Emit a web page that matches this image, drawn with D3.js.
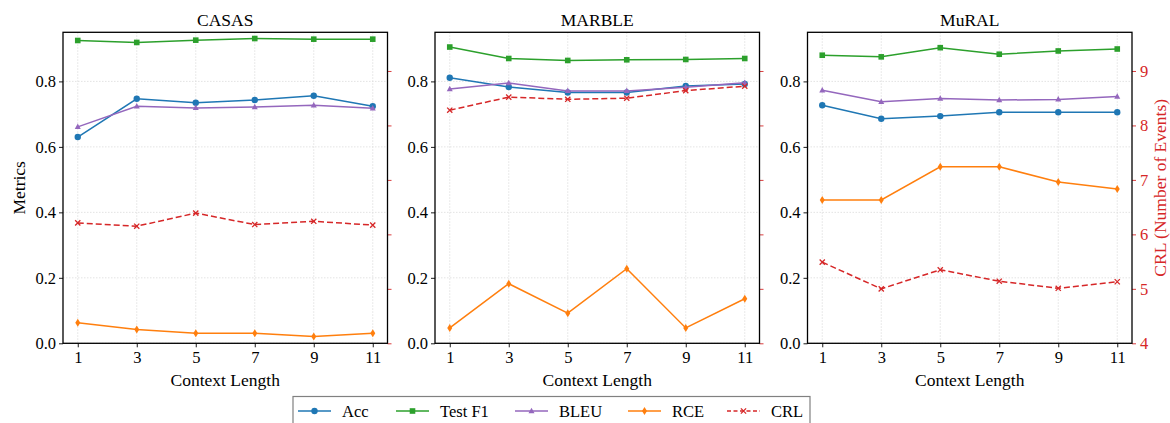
<!DOCTYPE html>
<html>
<head>
<meta charset="utf-8">
<script src="https://cdn.jsdelivr.net/npm/d3@7"></script>
<style>
  body { margin: 0; background: #fff; }
  svg { font-family: "Liberation Serif", "Times New Roman", serif; }
</style>
</head>
<body>
<div id="chart"></div>
<script>
var contextLengths = [1, 3, 5, 7, 9, 11];
var datasets = ["CASAS", "MARBLE", "MuRAL"];

// one row per dataset: CASAS, MARBLE, MuRAL
var accVals = [
  [0.630, 0.747, 0.735, 0.743, 0.756, 0.724],
  [0.811, 0.783, 0.766, 0.766, 0.786, 0.792],
  [0.727, 0.686, 0.694, 0.706, 0.706, 0.706]
];
var f1Vals = [
  [0.925, 0.919, 0.926, 0.931, 0.929, 0.929],
  [0.905, 0.870, 0.864, 0.866, 0.867, 0.870],
  [0.880, 0.875, 0.903, 0.883, 0.893, 0.899]
];
var bleuVals = [
  [0.661, 0.724, 0.719, 0.722, 0.727, 0.718],
  [0.777, 0.795, 0.771, 0.771, 0.782, 0.796],
  [0.773, 0.738, 0.748, 0.743, 0.745, 0.754]
];
var rceVals = [
  [0.063, 0.042, 0.031, 0.031, 0.021, 0.031],
  [0.047, 0.182, 0.092, 0.228, 0.047, 0.136],
  [0.438, 0.438, 0.539, 0.539, 0.493, 0.471]
];
var crlVals = [
  [6.21, 6.15, 6.39, 6.18, 6.24, 6.17],
  [8.28, 8.52, 8.48, 8.50, 8.64, 8.72],
  [5.49, 5.00, 5.35, 5.14, 5.01, 5.13]
];
var metricTicks = [0.0, 0.2, 0.4, 0.6, 0.8];
var crlTicks = [4, 5, 6, 7, 8, 9];

var series = [
  {name: "Acc", vals: accVals, color: "#1f77b4", marker: "circle"},
  {name: "Test F1", vals: f1Vals, color: "#2ca02c", marker: "square"},
  {name: "BLEU", vals: bleuVals, color: "#9467bd", marker: "triangle"},
  {name: "RCE", vals: rceVals, color: "#ff7f0e", marker: "diamond"},
  {name: "CRL", vals: crlVals, color: "#d62728", marker: "x", dashed: true, right: true}
];

var W = 1170, H = 423;
var panelLefts = [63, 435, 807.5];
var pw = 324.5, plotTop = 32.3, plotBottom = 343.3;

var svg = d3.select("#chart").append("svg")
  .attr("width", W).attr("height", H);

function drawMarker(g, type, x, y, color) {
  if (type === "circle") {
    g.append("circle").attr("cx", x).attr("cy", y).attr("r", 3.2).attr("fill", color);
  } else if (type === "square") {
    g.append("rect").attr("x", x - 2.8).attr("y", y - 2.8).attr("width", 5.6).attr("height", 5.6).attr("fill", color);
  } else if (type === "triangle") {
    g.append("path").attr("d", "M" + x + "," + (y - 3.3) + "L" + (x + 3) + "," + (y + 2.2) + "L" + (x - 3) + "," + (y + 2.2) + "Z")
      .attr("fill", color);
  } else if (type === "diamond") {
    g.append("path").attr("d", "M" + x + "," + (y - 4) + "L" + (x + 2.5) + "," + y + "L" + x + "," + (y + 4) + "L" + (x - 2.5) + "," + y + "Z")
      .attr("fill", color);
  } else if (type === "x") {
    g.append("path").attr("d", "M" + (x - 2.6) + "," + (y - 2.6) + "L" + (x + 2.6) + "," + (y + 2.6) + "M" + (x - 2.6) + "," + (y + 2.6) + "L" + (x + 2.6) + "," + (y - 2.6))
      .attr("stroke", color).attr("stroke-width", 1.3).attr("fill", "none");
  }
}

datasets.forEach(function(name, pi) {
  var left = panelLefts[pi];
  var x = d3.scaleLinear().domain([0.5, 11.5]).range([left, left + pw]);
  var y = d3.scaleLinear().domain([0, 0.95]).range([plotBottom, plotTop]);
  var y2 = d3.scaleLinear().domain([4, 9.71]).range([plotBottom, plotTop]);

  var g = svg.append("g");

  // grid
  g.selectAll(".vg").data(contextLengths).enter().append("line")
    .attr("x1", function(d) { return x(d); }).attr("x2", function(d) { return x(d); })
    .attr("y1", plotTop).attr("y2", plotBottom)
    .attr("stroke", "#dcdcdc").attr("stroke-width", 0.8).attr("stroke-dasharray", "1.5,1.5");
  g.selectAll(".hg").data(metricTicks).enter().append("line")
    .attr("x1", left).attr("x2", left + pw)
    .attr("y1", function(d) { return y(d); }).attr("y2", function(d) { return y(d); })
    .attr("stroke", "#dcdcdc").attr("stroke-width", 0.8).attr("stroke-dasharray", "1.5,1.5");

  // lines
  series.forEach(function(s) {
    var sy = s.right ? y2 : y;
    var line = d3.line()
      .x(function(d, i) { return x(contextLengths[i]); })
      .y(function(d) { return sy(d); });
    g.append("path").datum(s.vals[pi])
      .attr("d", line).attr("fill", "none")
      .attr("stroke", s.color).attr("stroke-width", 1.5)
      .attr("stroke-dasharray", s.dashed ? "6,3" : null);
    s.vals[pi].forEach(function(v, i) {
      drawMarker(g, s.marker, x(contextLengths[i]), sy(v), s.color);
    });
  });

  // axes
  var xAxis = g.append("g").attr("transform", "translate(0," + plotBottom + ")")
    .call(d3.axisBottom(x).tickValues(contextLengths).tickSize(4).tickPadding(4));
  var yAxis = g.append("g").attr("transform", "translate(" + left + ",0)")
    .call(d3.axisLeft(y).tickValues(metricTicks).tickFormat(d3.format(".1f")).tickSize(4).tickPadding(3));
  var y2Axis = g.append("g").attr("transform", "translate(" + (left + pw) + ",0)")
    .call(d3.axisRight(y2).tickValues(crlTicks).tickSize(4).tickPadding(4)
      .tickFormat(pi === 2 ? d3.format("d") : function() { return ""; }));
  [xAxis, yAxis, y2Axis].forEach(function(a) {
    a.select(".domain").remove();
    a.selectAll("text").attr("font-size", 16.5).attr("font-family", "Liberation Serif, Times New Roman, serif").attr("fill", "#000");
    a.selectAll("line").attr("stroke", "#000").attr("stroke-width", 0.9);
  });
  y2Axis.selectAll("line").attr("stroke", "#d62728");
  y2Axis.selectAll("text").attr("fill", "#d62728");

  // frame
  g.append("rect").attr("x", left).attr("y", plotTop).attr("width", pw).attr("height", plotBottom - plotTop)
    .attr("fill", "none").attr("stroke", "#000").attr("stroke-width", 1.3);

  // titles
  g.append("text").attr("x", left + pw / 2).attr("y", 26)
    .attr("text-anchor", "middle").attr("font-size", 17.5).text(name);
  g.append("text").attr("x", left + pw / 2).attr("y", 385.5)
    .attr("text-anchor", "middle").attr("font-size", 17.5).text("Context Length");
});

svg.append("text")
  .attr("transform", "translate(25," + ((plotTop + plotBottom) / 2) + ") rotate(-90)")
  .attr("text-anchor", "middle").attr("font-size", 17.5).text("Metrics");
svg.append("text")
  .attr("transform", "translate(1166," + ((plotTop + plotBottom) / 2) + ") rotate(-90)")
  .attr("text-anchor", "middle").attr("font-size", 17.5).attr("fill", "#d62728")
  .text("CRL (Number of Events)");

// legend
var legend = svg.append("g");
legend.append("rect").attr("x", 293).attr("y", 396.5).attr("width", 517).attr("height", 34)
  .attr("fill", "#fff").attr("stroke", "#808080").attr("stroke-width", 1.2);
var legendX = [298, 396, 515, 628, 727];
series.forEach(function(s, i) {
  var lx = legendX[i], ly = 411;
  legend.append("line").attr("x1", lx).attr("x2", lx + 33).attr("y1", ly).attr("y2", ly)
    .attr("stroke", s.color).attr("stroke-width", 1.5)
    .attr("stroke-dasharray", s.dashed ? "4,2.5" : null);
  drawMarker(legend, s.marker, lx + 16.5, ly, s.color);
  legend.append("text").attr("x", lx + 44).attr("y", ly + 5.5)
    .attr("font-size", 16.5).text(s.name);
});
</script>
</body>
</html>
